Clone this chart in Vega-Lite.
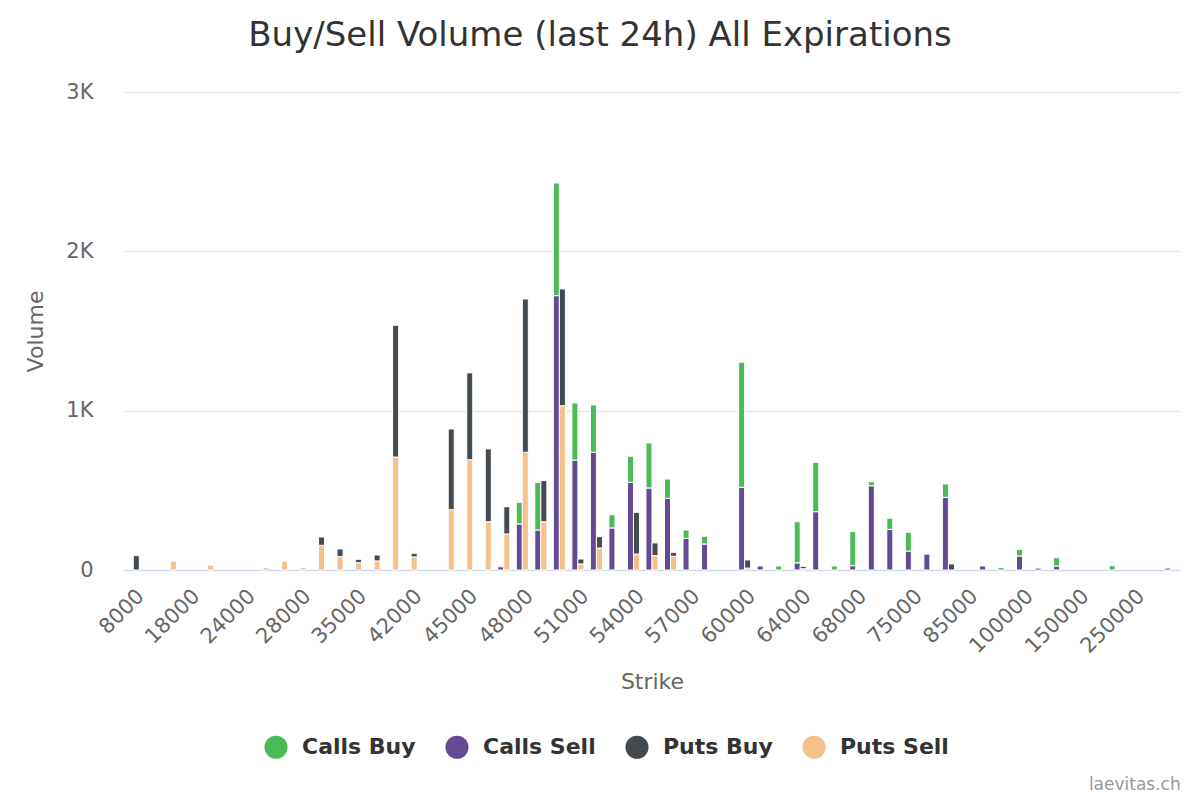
{
  "$schema": "https://vega.github.io/schema/vega-lite/v6.json",
  "autosize": {"type": "none"},
  "width": 1056,
  "height": 478,
  "padding": {"left": 124, "top": 92, "right": 20, "bottom": 230},
  "background": "#ffffff",
  "title": {
    "text": "Buy/Sell Volume (last 24h) All Expirations",
    "font": "DejaVu Sans",
    "fontSize": 34,
    "fontWeight": "normal",
    "color": "#333333",
    "anchor": "middle",
    "frame": "group",
    "dx": -52,
    "offset": 28
  },
  "config": {
    "view": {"stroke": null},
    "font": "DejaVu Sans",
    "axis": {"labelFont": "DejaVu Sans", "titleFont": "DejaVu Sans"}
  },
  "datasets": {
    "volumes": [
      {"strike": "8000", "type": "Puts", "side": "Buy", "series": "Puts Buy", "value": 90},
      {"strike": "15000", "type": "Puts", "side": "Sell", "series": "Puts Sell", "value": 55},
      {"strike": "20000", "type": "Puts", "side": "Sell", "series": "Puts Sell", "value": 31},
      {"strike": "25000", "type": "Puts", "side": "Sell", "series": "Puts Sell", "value": 15},
      {"strike": "26000", "type": "Puts", "side": "Sell", "series": "Puts Sell", "value": 55},
      {"strike": "28000", "type": "Puts", "side": "Sell", "series": "Puts Sell", "value": 15},
      {"strike": "30000", "type": "Puts", "side": "Sell", "series": "Puts Sell", "value": 155},
      {"strike": "30000", "type": "Puts", "side": "Buy", "series": "Puts Buy", "value": 52},
      {"strike": "32000", "type": "Puts", "side": "Sell", "series": "Puts Sell", "value": 84},
      {"strike": "32000", "type": "Puts", "side": "Buy", "series": "Puts Buy", "value": 48},
      {"strike": "35000", "type": "Puts", "side": "Sell", "series": "Puts Sell", "value": 46},
      {"strike": "35000", "type": "Puts", "side": "Buy", "series": "Puts Buy", "value": 21},
      {"strike": "38000", "type": "Puts", "side": "Sell", "series": "Puts Sell", "value": 57},
      {"strike": "38000", "type": "Puts", "side": "Buy", "series": "Puts Buy", "value": 37},
      {"strike": "40000", "type": "Puts", "side": "Sell", "series": "Puts Sell", "value": 709},
      {"strike": "40000", "type": "Puts", "side": "Buy", "series": "Puts Buy", "value": 827},
      {"strike": "42000", "type": "Puts", "side": "Sell", "series": "Puts Sell", "value": 82},
      {"strike": "42000", "type": "Puts", "side": "Buy", "series": "Puts Buy", "value": 23},
      {"strike": "44000", "type": "Puts", "side": "Sell", "series": "Puts Sell", "value": 379},
      {"strike": "44000", "type": "Puts", "side": "Buy", "series": "Puts Buy", "value": 506},
      {"strike": "45000", "type": "Puts", "side": "Sell", "series": "Puts Sell", "value": 692},
      {"strike": "45000", "type": "Puts", "side": "Buy", "series": "Puts Buy", "value": 545},
      {"strike": "46000", "type": "Puts", "side": "Sell", "series": "Puts Sell", "value": 303},
      {"strike": "46000", "type": "Puts", "side": "Buy", "series": "Puts Buy", "value": 457},
      {"strike": "47000", "type": "Calls", "side": "Sell", "series": "Calls Sell", "value": 20},
      {"strike": "47000", "type": "Puts", "side": "Sell", "series": "Puts Sell", "value": 226},
      {"strike": "47000", "type": "Puts", "side": "Buy", "series": "Puts Buy", "value": 171},
      {"strike": "48000", "type": "Calls", "side": "Sell", "series": "Calls Sell", "value": 289},
      {"strike": "48000", "type": "Calls", "side": "Buy", "series": "Calls Buy", "value": 136},
      {"strike": "48000", "type": "Puts", "side": "Sell", "series": "Puts Sell", "value": 739},
      {"strike": "48000", "type": "Puts", "side": "Buy", "series": "Puts Buy", "value": 962},
      {"strike": "49000", "type": "Calls", "side": "Sell", "series": "Calls Sell", "value": 251},
      {"strike": "49000", "type": "Calls", "side": "Buy", "series": "Calls Buy", "value": 299},
      {"strike": "49000", "type": "Puts", "side": "Sell", "series": "Puts Sell", "value": 303},
      {"strike": "49000", "type": "Puts", "side": "Buy", "series": "Puts Buy", "value": 258},
      {"strike": "50000", "type": "Calls", "side": "Sell", "series": "Calls Sell", "value": 1722},
      {"strike": "50000", "type": "Calls", "side": "Buy", "series": "Calls Buy", "value": 707},
      {"strike": "50000", "type": "Puts", "side": "Sell", "series": "Puts Sell", "value": 1031},
      {"strike": "50000", "type": "Puts", "side": "Buy", "series": "Puts Buy", "value": 733},
      {"strike": "51000", "type": "Calls", "side": "Sell", "series": "Calls Sell", "value": 690},
      {"strike": "51000", "type": "Calls", "side": "Buy", "series": "Calls Buy", "value": 358},
      {"strike": "51000", "type": "Puts", "side": "Sell", "series": "Puts Sell", "value": 38},
      {"strike": "51000", "type": "Puts", "side": "Buy", "series": "Puts Buy", "value": 31},
      {"strike": "52000", "type": "Calls", "side": "Sell", "series": "Calls Sell", "value": 739},
      {"strike": "52000", "type": "Calls", "side": "Buy", "series": "Calls Buy", "value": 297},
      {"strike": "52000", "type": "Puts", "side": "Sell", "series": "Puts Sell", "value": 138},
      {"strike": "52000", "type": "Puts", "side": "Buy", "series": "Puts Buy", "value": 71},
      {"strike": "53000", "type": "Calls", "side": "Sell", "series": "Calls Sell", "value": 264},
      {"strike": "53000", "type": "Calls", "side": "Buy", "series": "Calls Buy", "value": 83},
      {"strike": "54000", "type": "Calls", "side": "Sell", "series": "Calls Sell", "value": 551},
      {"strike": "54000", "type": "Calls", "side": "Buy", "series": "Calls Buy", "value": 163},
      {"strike": "54000", "type": "Puts", "side": "Sell", "series": "Puts Sell", "value": 100},
      {"strike": "54000", "type": "Puts", "side": "Buy", "series": "Puts Buy", "value": 262},
      {"strike": "55000", "type": "Calls", "side": "Sell", "series": "Calls Sell", "value": 515},
      {"strike": "55000", "type": "Calls", "side": "Buy", "series": "Calls Buy", "value": 282},
      {"strike": "55000", "type": "Puts", "side": "Sell", "series": "Puts Sell", "value": 90},
      {"strike": "55000", "type": "Puts", "side": "Buy", "series": "Puts Buy", "value": 80},
      {"strike": "56000", "type": "Calls", "side": "Sell", "series": "Calls Sell", "value": 450},
      {"strike": "56000", "type": "Calls", "side": "Buy", "series": "Calls Buy", "value": 121},
      {"strike": "56000", "type": "Puts", "side": "Sell", "series": "Puts Sell", "value": 86},
      {"strike": "56000", "type": "Puts", "side": "Buy", "series": "Puts Buy", "value": 25},
      {"strike": "57000", "type": "Calls", "side": "Sell", "series": "Calls Sell", "value": 199},
      {"strike": "57000", "type": "Calls", "side": "Buy", "series": "Calls Buy", "value": 52},
      {"strike": "58000", "type": "Calls", "side": "Sell", "series": "Calls Sell", "value": 163},
      {"strike": "58000", "type": "Calls", "side": "Buy", "series": "Calls Buy", "value": 49},
      {"strike": "60000", "type": "Calls", "side": "Sell", "series": "Calls Sell", "value": 519},
      {"strike": "60000", "type": "Calls", "side": "Buy", "series": "Calls Buy", "value": 785},
      {"strike": "60000", "type": "Puts", "side": "Sell", "series": "Puts Sell", "value": 12},
      {"strike": "60000", "type": "Puts", "side": "Buy", "series": "Puts Buy", "value": 51},
      {"strike": "61000", "type": "Calls", "side": "Sell", "series": "Calls Sell", "value": 25},
      {"strike": "62000", "type": "Calls", "side": "Buy", "series": "Calls Buy", "value": 25},
      {"strike": "64000", "type": "Calls", "side": "Sell", "series": "Calls Sell", "value": 45},
      {"strike": "64000", "type": "Calls", "side": "Buy", "series": "Calls Buy", "value": 258},
      {"strike": "64000", "type": "Puts", "side": "Sell", "series": "Puts Sell", "value": 8},
      {"strike": "64000", "type": "Puts", "side": "Buy", "series": "Puts Buy", "value": 15},
      {"strike": "65000", "type": "Calls", "side": "Sell", "series": "Calls Sell", "value": 366},
      {"strike": "65000", "type": "Calls", "side": "Buy", "series": "Calls Buy", "value": 310},
      {"strike": "66000", "type": "Calls", "side": "Buy", "series": "Calls Buy", "value": 25},
      {"strike": "68000", "type": "Calls", "side": "Sell", "series": "Calls Sell", "value": 27},
      {"strike": "68000", "type": "Calls", "side": "Buy", "series": "Calls Buy", "value": 214},
      {"strike": "70000", "type": "Calls", "side": "Sell", "series": "Calls Sell", "value": 529},
      {"strike": "70000", "type": "Calls", "side": "Buy", "series": "Calls Buy", "value": 25},
      {"strike": "72000", "type": "Calls", "side": "Sell", "series": "Calls Sell", "value": 255},
      {"strike": "72000", "type": "Calls", "side": "Buy", "series": "Calls Buy", "value": 70},
      {"strike": "75000", "type": "Calls", "side": "Sell", "series": "Calls Sell", "value": 119},
      {"strike": "75000", "type": "Calls", "side": "Buy", "series": "Calls Buy", "value": 118},
      {"strike": "78000", "type": "Calls", "side": "Sell", "series": "Calls Sell", "value": 100},
      {"strike": "80000", "type": "Calls", "side": "Sell", "series": "Calls Sell", "value": 456},
      {"strike": "80000", "type": "Calls", "side": "Buy", "series": "Calls Buy", "value": 84},
      {"strike": "80000", "type": "Puts", "side": "Buy", "series": "Puts Buy", "value": 38},
      {"strike": "90000", "type": "Calls", "side": "Sell", "series": "Calls Sell", "value": 25},
      {"strike": "95000", "type": "Calls", "side": "Buy", "series": "Calls Buy", "value": 15},
      {"strike": "100000", "type": "Calls", "side": "Sell", "series": "Calls Sell", "value": 88},
      {"strike": "100000", "type": "Calls", "side": "Buy", "series": "Calls Buy", "value": 42},
      {"strike": "110000", "type": "Calls", "side": "Sell", "series": "Calls Sell", "value": 12},
      {"strike": "120000", "type": "Calls", "side": "Sell", "series": "Calls Sell", "value": 25},
      {"strike": "120000", "type": "Calls", "side": "Buy", "series": "Calls Buy", "value": 52},
      {"strike": "200000", "type": "Calls", "side": "Buy", "series": "Calls Buy", "value": 27},
      {"strike": "400000", "type": "Calls", "side": "Sell", "series": "Calls Sell", "value": 12}
    ],
    "credit": [{"label": "laevitas.ch", "strike": "400000", "pos": -1381}]
  },
  "layer": [
    {
      "data": {"name": "volumes"},
      "mark": {"type": "bar", "stroke": "#ffffff", "strokeWidth": 1},
      "encoding": {
        "x": {
          "field": "strike",
          "type": "nominal",
          "scale": {
            "domain": ["8000","10000","15000","18000","20000","22000","24000","25000","26000","28000","30000","32000","35000","38000","40000","42000","43000","44000","45000","46000","47000","48000","49000","50000","51000","52000","53000","54000","55000","56000","57000","58000","59000","60000","61000","62000","64000","65000","66000","68000","70000","72000","75000","78000","80000","85000","90000","95000","100000","110000","120000","150000","180000","200000","250000","300000","400000"],
            "paddingInner": 0.35,
            "paddingOuter": 0.175
          },
          "axis": {
            "values": ["8000","18000","24000","28000","35000","42000","45000","48000","51000","54000","57000","60000","64000","68000","75000","85000","100000","150000","250000"],
            "title": "Strike",
            "titleFontSize": 22,
            "titleFontWeight": "normal",
            "titleColor": "#666666",
            "titlePadding": 15,
            "labelAngle": -45,
            "labelAlign": "right",
            "labelBaseline": "top",
            "labelFontSize": 21,
            "labelColor": "#666666",
            "labelPadding": 15,
            "labelOverlap": false,
            "ticks": false,
            "domainColor": "#ccd6eb",
            "domainWidth": 1,
            "grid": false
          }
        },
        "xOffset": {
          "field": "type",
          "type": "nominal",
          "scale": {"domain": ["Calls", "Puts"], "paddingInner": 0, "paddingOuter": 0}
        },
        "y": {
          "field": "value",
          "type": "quantitative",
          "stack": "zero",
          "scale": {"domain": [0, 3000]},
          "axis": {
            "values": [0, 1000, 2000, 3000],
            "labelExpr": "datum.value == 0 ? '0' : datum.value / 1000 + 'K'",
            "title": "Volume",
            "titleFontSize": 22,
            "titleFontWeight": "normal",
            "titleColor": "#666666",
            "titlePadding": 18,
            "labelFontSize": 21,
            "labelColor": "#666666",
            "labelPadding": 31,
            "ticks": false,
            "domain": false,
            "gridColor": "#e6e6e6",
            "gridWidth": 1.5
          }
        },
        "color": {
          "field": "series",
          "type": "nominal",
          "scale": {
            "domain": ["Calls Buy", "Calls Sell", "Puts Buy", "Puts Sell"],
            "range": ["#4cbb55", "#634a93", "#434a50", "#f6c08b"]
          },
          "legend": {
            "title": null,
            "orient": "none",
            "direction": "horizontal",
            "legendX": 140,
            "legendY": 643,
            "symbolType": "circle",
            "symbolSize": 530,
            "symbolStrokeWidth": 0,
            "labelFontSize": 22,
            "labelFontWeight": "bold",
            "labelColor": "#333333",
            "labelOffset": 14,
            "columnPadding": 29
          }
        },
        "order": {"field": "side", "sort": "descending"}
      }
    },
    {
      "data": {"name": "credit"},
      "mark": {"type": "text", "align": "right", "baseline": "alphabetic", "fontSize": 17, "color": "#999999", "dx": 10},
      "encoding": {
        "x": {"field": "strike", "type": "nominal"},
        "y": {"field": "pos", "type": "quantitative"},
        "text": {"field": "label"}
      }
    }
  ]
}
